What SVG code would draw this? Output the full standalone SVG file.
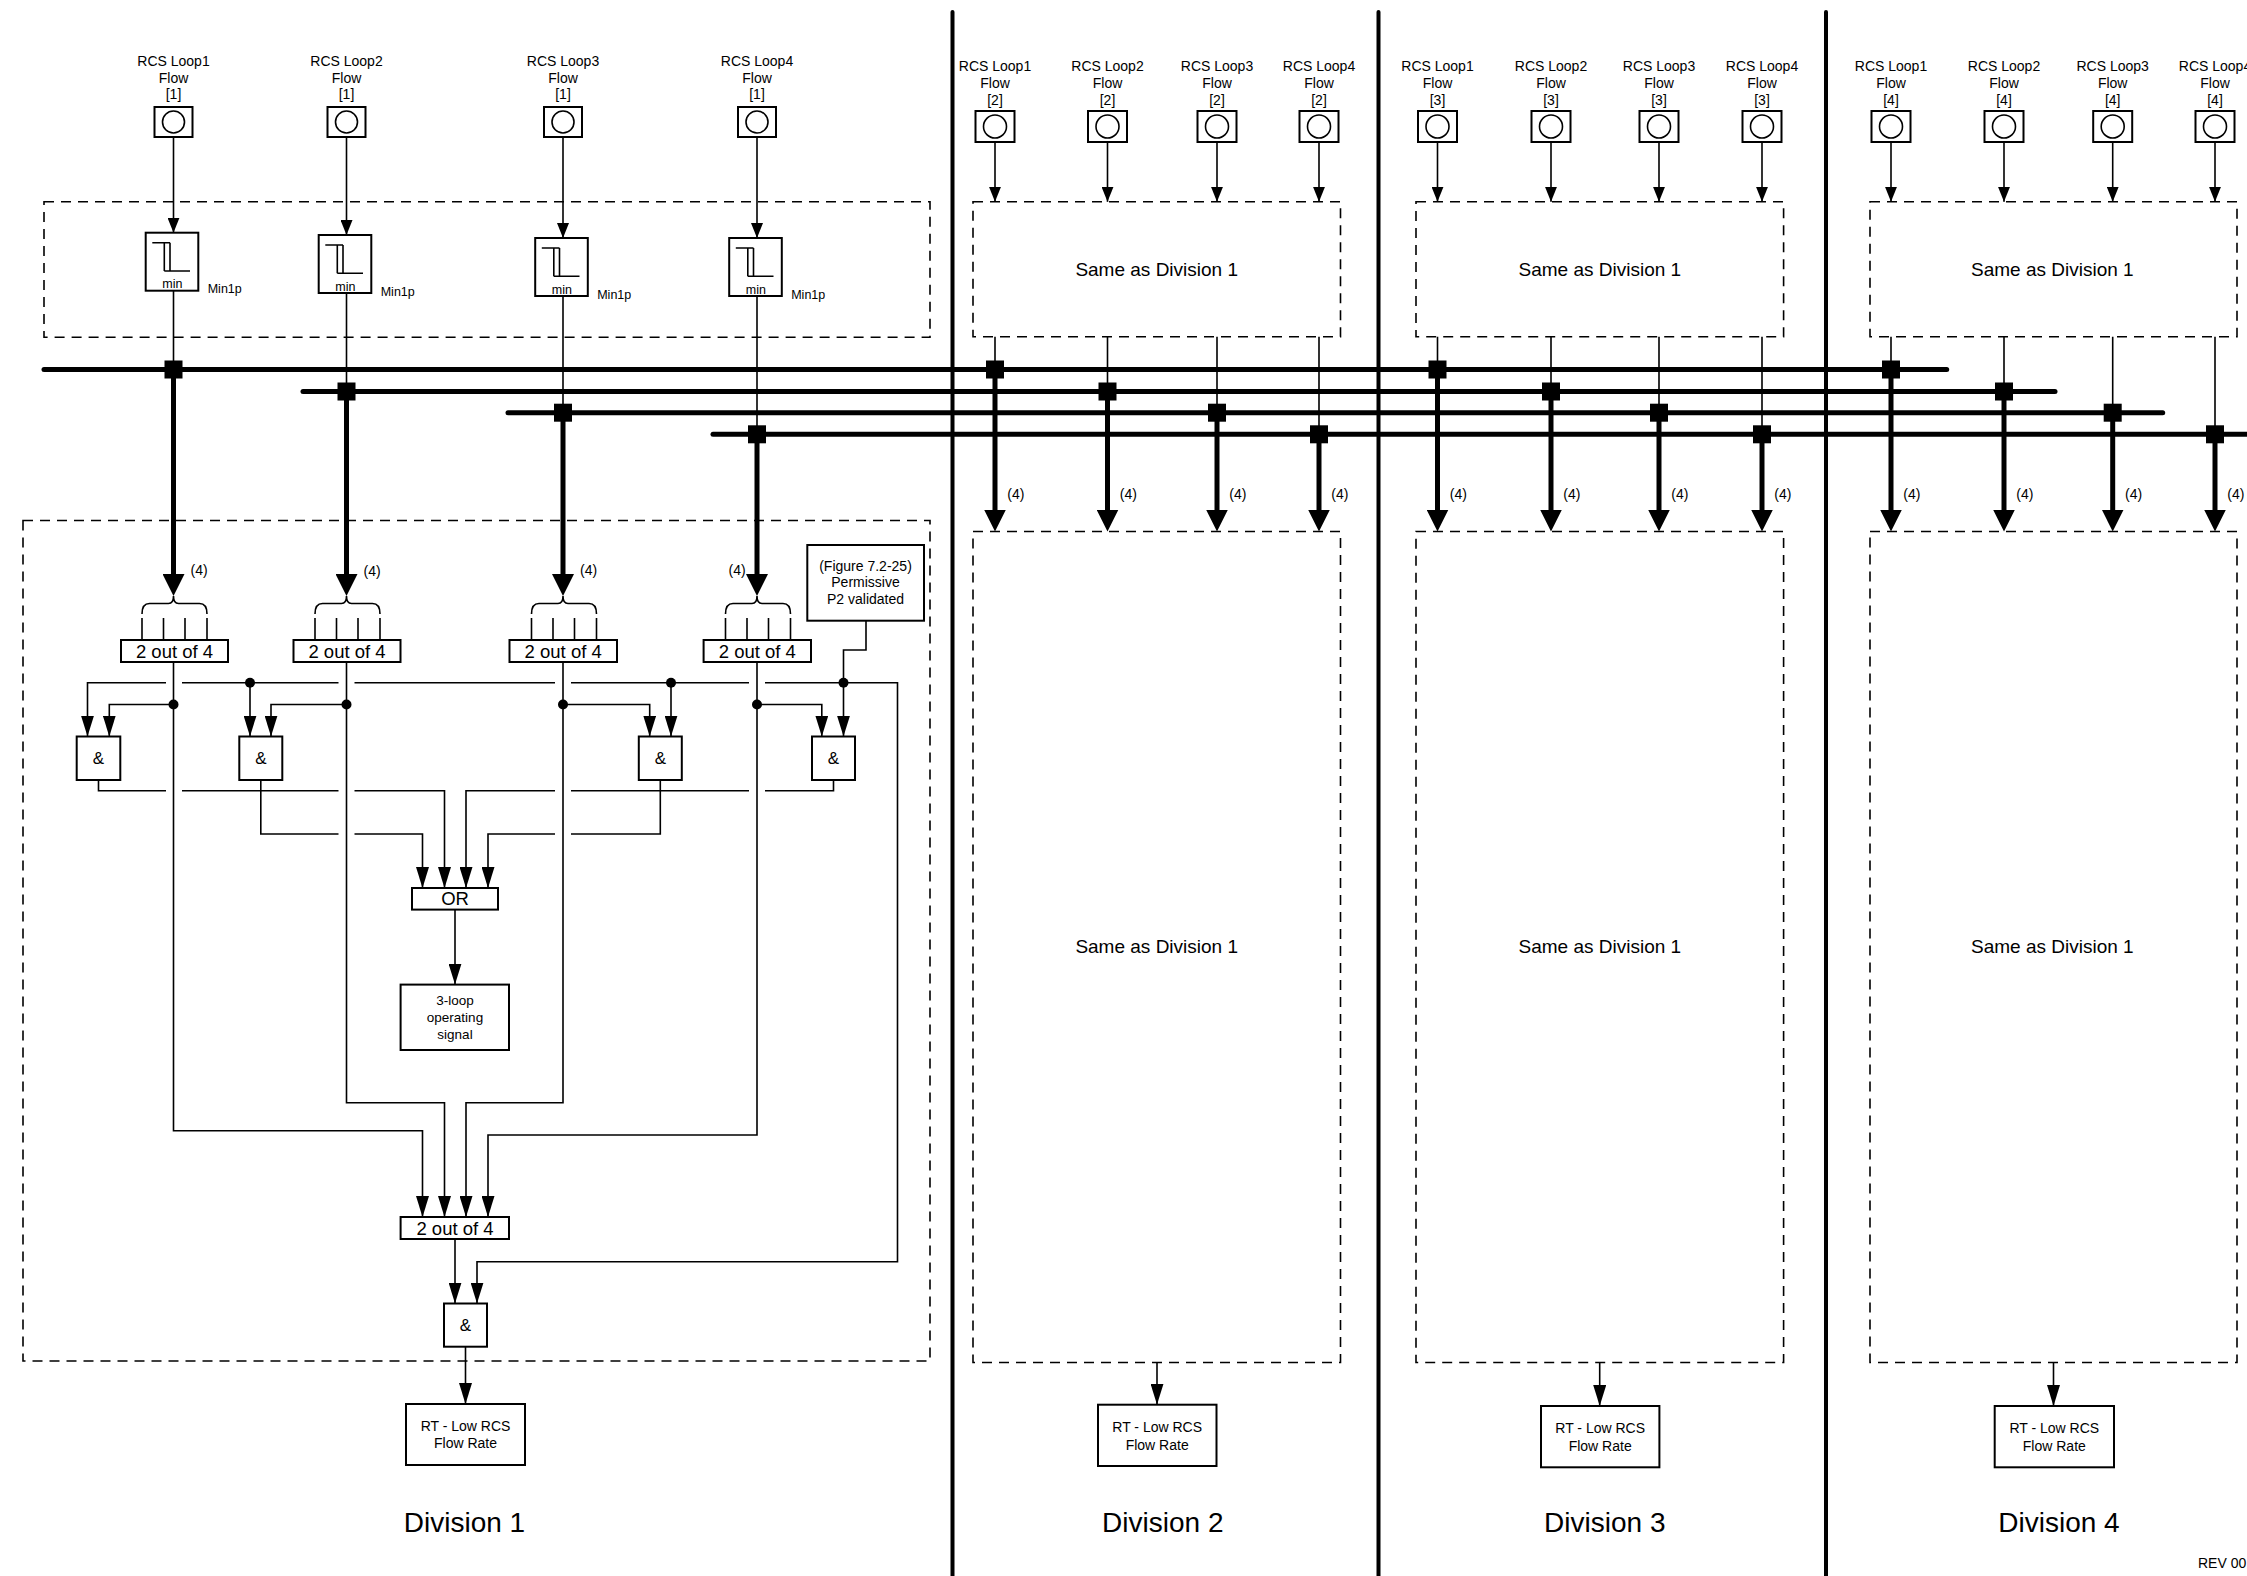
<svg xmlns="http://www.w3.org/2000/svg" width="2247" height="1576" viewBox="0 0 2247 1576">
<style>
text{font-family:"Liberation Sans",Arial,sans-serif;fill:#000}
.t14{font-size:14px;text-anchor:middle}
.t12{font-size:12.5px}
.t19{font-size:19px;text-anchor:middle}
.t18{font-size:18.5px;text-anchor:middle}
.t28{font-size:28px;text-anchor:middle}
.ln{stroke:#000;stroke-width:1.6;fill:none}
.bx{stroke:#000;stroke-width:2;fill:#fff}
.db{stroke:#000;stroke-width:1.6;fill:none;stroke-dasharray:10 7}
.bus{stroke:#000;stroke-width:5;stroke-linecap:round;fill:none}
.thk{stroke:#000;stroke-width:5;fill:none}
.dv{stroke:#000;stroke-width:4;stroke-linecap:round}
.jn{fill:#000}
.ah{marker-end:url(#ah)}
.as{marker-end:url(#as)}
.ak{marker-end:url(#ak)}
</style>
<defs>
<marker id="ah" viewBox="0 0 21 13" refX="21" refY="6.5" markerWidth="21" markerHeight="13" markerUnits="userSpaceOnUse" orient="auto"><path d="M0,0 L21,6.5 L0,13z"/></marker>
<marker id="as" viewBox="0 0 15 12" refX="15" refY="6" markerWidth="15" markerHeight="12" markerUnits="userSpaceOnUse" orient="auto"><path d="M0,0 L15,6 L0,12z"/></marker>
<marker id="ak" viewBox="0 0 22 22" refX="4" refY="11" markerWidth="22" markerHeight="22" markerUnits="userSpaceOnUse" orient="auto"><path d="M0,0 L22,11 L0,22z"/></marker>
<g id="minsym"><path class="ln" d="M6.6,10 H24.3 M18.6,10 V38.3 M24.3,10 V38.3 M18.6,38.3 H44.3"/></g>
</defs>
<rect width="2247" height="1576" fill="#fff"/>

<g id="separators">
<line class="dv" x1="952.5" y1="12" x2="952.5" y2="1580"/>
<line class="dv" x1="1378.5" y1="12" x2="1378.5" y2="1580"/>
<line class="dv" x1="1826" y1="12" x2="1826" y2="1580"/>
</g>

<g id="frames">
<rect class="db" x="44" y="201.7" width="886" height="135.6"/>
<rect class="db" x="23" y="520.5" width="907" height="840.5"/>
<rect class="db" x="973" y="201.8" width="367.5" height="135"/>
<rect class="db" x="973" y="531.5" width="367.5" height="831"/>
<rect class="db" x="1416" y="201.8" width="367.6" height="135"/>
<rect class="db" x="1416" y="531.5" width="367.6" height="831"/>
<rect class="db" x="1870" y="201.8" width="367" height="135"/>
<rect class="db" x="1870" y="531.5" width="367" height="831"/>
</g>

<g id="connectors">
<path class="bus" d="M44,369.5 H1946.7"/>
<path class="bus" d="M303,391.5 H2055"/>
<path class="bus" d="M508,412.7 H2162.7"/>
<path class="bus" d="M713,434.3 H2262"/>
<path class="ln as" d="M173.5,137 V232.7"/>
<path class="ln as" d="M346.5,137 V235"/>
<path class="ln as" d="M563,137 V238"/>
<path class="ln as" d="M757,137 V238"/>
<path class="ln" d="M173.5,290.7 V369.5"/>
<path class="ln" d="M346.5,293 V391.5"/>
<path class="ln" d="M563,296 V412.7"/>
<path class="ln" d="M757,296 V434.3"/>
<path class="thk ak" d="M173.5,369.5 V578"/>
<path class="thk ak" d="M346.5,391.5 V578"/>
<path class="thk ak" d="M563,412.7 V578"/>
<path class="thk ak" d="M757,434.3 V578"/>
<path class="ln as" d="M995,142 V201.8"/><path class="ln as" d="M1107.5,142 V201.8"/><path class="ln as" d="M1217,142 V201.8"/><path class="ln as" d="M1319,142 V201.8"/>
<path class="ln as" d="M1437.5,142 V201.8"/><path class="ln as" d="M1551,142 V201.8"/><path class="ln as" d="M1659,142 V201.8"/><path class="ln as" d="M1762,142 V201.8"/>
<path class="ln as" d="M1891,142 V201.8"/><path class="ln as" d="M2004,142 V201.8"/><path class="ln as" d="M2112.7,142 V201.8"/><path class="ln as" d="M2215,142 V201.8"/>
<path class="ln" d="M995,336.8 V369.5 M1107.5,336.8 V391.5 M1217,336.8 V412.7 M1319,336.8 V434.3"/>
<path class="ln" d="M1437.5,336.8 V369.5 M1551,336.8 V391.5 M1659,336.8 V412.7 M1762,336.8 V434.3"/>
<path class="ln" d="M1891,336.8 V369.5 M2004,336.8 V391.5 M2112.7,336.8 V412.7 M2215,336.8 V434.3"/>
<path class="thk ak" d="M995,369.5 V513.5"/><path class="thk ak" d="M1107.5,391.5 V513.5"/><path class="thk ak" d="M1217,412.7 V513.5"/><path class="thk ak" d="M1319,434.3 V513.5"/>
<path class="thk ak" d="M1437.5,369.5 V513.5"/><path class="thk ak" d="M1551,391.5 V513.5"/><path class="thk ak" d="M1659,412.7 V513.5"/><path class="thk ak" d="M1762,434.3 V513.5"/>
<path class="thk ak" d="M1891,369.5 V513.5"/><path class="thk ak" d="M2004,391.5 V513.5"/><path class="thk ak" d="M2112.7,412.7 V513.5"/><path class="thk ak" d="M2215,434.3 V513.5"/>
<path class="ln" d="M142,614 Q142,603.5 149.5,603.5 H168.5 Q173.5,603.5 173.5,596 Q173.5,603.5 178.5,603.5 H199.5 Q207,603.5 207,614 M142,618 V640 M163.5,618 V640 M185,618 V640 M207,618 V640"/>
<path class="ln" d="M315,614 Q315,603.5 322.5,603.5 H341.5 Q346.5,603.5 346.5,596 Q346.5,603.5 351.5,603.5 H372.5 Q380,603.5 380,614 M315,618 V640 M336.5,618 V640 M358,618 V640 M380,618 V640"/>
<path class="ln" d="M531.5,614 Q531.5,603.5 539,603.5 H558 Q563,603.5 563,596 Q563,603.5 568,603.5 H589 Q596.5,603.5 596.5,614 M531.5,618 V640 M553,618 V640 M574.5,618 V640 M596.5,618 V640"/>
<path class="ln" d="M725.5,614 Q725.5,603.5 733,603.5 H752 Q757,603.5 757,596 Q757,603.5 762,603.5 H783 Q790.5,603.5 790.5,614 M725.5,618 V640 M747,618 V640 M768.5,618 V640 M790.5,618 V640"/>
<path class="ln ah" d="M866,620.7 V650 H843.5 V736.5"/>
<path class="ln ah" d="M166,682.7 H87.5 V736.5"/>
<path class="ln" d="M182,682.7 H338.5 M354.5,682.7 H555 M571,682.7 H749"/>
<path class="ln ah" d="M765,682.7 H897.5 V1261.7 H477 V1303.5"/>
<path class="ln ah" d="M250,682.7 V736.5"/>
<path class="ln ah" d="M671,682.7 V736.5"/>
<path class="ln ah" d="M173.5,662 V1130.7 H422.5 V1217"/>
<path class="ln ah" d="M346.5,662 V1102.7 H444.5 V1217"/>
<path class="ln ah" d="M563,662 V1102.7 H466 V1217"/>
<path class="ln ah" d="M757,662 V1135 H488 V1217"/>
<path class="ln ah" d="M173.5,704.5 H109.3 V736.5"/>
<path class="ln ah" d="M346.5,704.5 H271 V736.5"/>
<path class="ln ah" d="M563,704.5 H649.7 V736.5"/>
<path class="ln ah" d="M757,704.5 H821.8 V736.5"/>
<path class="ln" d="M98.5,780 V790.7 H166 M182,790.7 H338.5"/>
<path class="ln ah" d="M354.5,790.7 H444.5 V888"/>
<path class="ln" d="M260.8,780 V834 H338.5"/>
<path class="ln ah" d="M354.5,834 H422.5 V888"/>
<path class="ln" d="M660.3,780 V834 H571"/>
<path class="ln ah" d="M555,834 H488 V888"/>
<path class="ln" d="M833.5,780 V790.7 H765 M749,790.7 H571"/>
<path class="ln ah" d="M555,790.7 H466 V888"/>
<path class="ln ah" d="M455,909.6 V984.6"/>
<path class="ln ah" d="M455,1239 V1303.5"/>
<path class="ln ah" d="M465.5,1346.7 V1404"/>
<path class="ln ah" d="M1157,1362.7 V1404.7"/>
<path class="ln ah" d="M1599.7,1362.7 V1406"/>
<path class="ln ah" d="M2053.5,1362.7 V1406"/>
<circle class="jn" cx="250" cy="682.7" r="5"/>
<circle class="jn" cx="671" cy="682.7" r="5"/>
<circle class="jn" cx="843.5" cy="682.7" r="5"/>
<circle class="jn" cx="173.5" cy="704.5" r="5"/>
<circle class="jn" cx="346.5" cy="704.5" r="5"/>
<circle class="jn" cx="563" cy="704.5" r="5"/>
<circle class="jn" cx="757" cy="704.5" r="5"/>
<g class="jn">
<rect x="164.5" y="360.5" width="18" height="18"/><rect x="337.5" y="382.5" width="18" height="18"/><rect x="554" y="403.7" width="18" height="18"/><rect x="748" y="425.3" width="18" height="18"/>
<rect x="986" y="360.5" width="18" height="18"/><rect x="1098.5" y="382.5" width="18" height="18"/><rect x="1208" y="403.7" width="18" height="18"/><rect x="1310" y="425.3" width="18" height="18"/>
<rect x="1428.5" y="360.5" width="18" height="18"/><rect x="1542" y="382.5" width="18" height="18"/><rect x="1650" y="403.7" width="18" height="18"/><rect x="1753" y="425.3" width="18" height="18"/>
<rect x="1882" y="360.5" width="18" height="18"/><rect x="1995" y="382.5" width="18" height="18"/><rect x="2103.7" y="403.7" width="18" height="18"/><rect x="2206" y="425.3" width="18" height="18"/>
</g>
<g class="t14" style="text-anchor:start">
<text x="190.5" y="575">(4)</text><text x="363.5" y="576">(4)</text><text x="580" y="575">(4)</text><text x="728.5" y="575">(4)</text>
<text x="1007.3" y="499">(4)</text><text x="1119.8" y="499">(4)</text><text x="1229.3" y="499">(4)</text><text x="1331.3" y="499">(4)</text>
<text x="1449.8" y="499">(4)</text><text x="1563.3" y="499">(4)</text><text x="1671.3" y="499">(4)</text><text x="1774.3" y="499">(4)</text>
<text x="1903.3" y="499">(4)</text><text x="2016.3" y="499">(4)</text><text x="2125" y="499">(4)</text><text x="2227.3" y="499">(4)</text>
</g>
</g>

<g id="d1-s1"><text class="t14" x="173.5" y="66">RCS Loop1</text><text class="t14" x="173.5" y="82.7">Flow</text><text class="t14" x="173.5" y="99">[1]</text><rect class="bx" x="154.5" y="107" width="38" height="30"/><circle class="ln" cx="173.5" cy="122" r="11"/></g>
<g id="d1-s2"><text class="t14" x="346.5" y="66">RCS Loop2</text><text class="t14" x="346.5" y="82.7">Flow</text><text class="t14" x="346.5" y="99">[1]</text><rect class="bx" x="327.5" y="107" width="38" height="30"/><circle class="ln" cx="346.5" cy="122" r="11"/></g>
<g id="d1-s3"><text class="t14" x="563" y="66">RCS Loop3</text><text class="t14" x="563" y="82.7">Flow</text><text class="t14" x="563" y="99">[1]</text><rect class="bx" x="544" y="107" width="38" height="30"/><circle class="ln" cx="563" cy="122" r="11"/></g>
<g id="d1-s4"><text class="t14" x="757" y="66">RCS Loop4</text><text class="t14" x="757" y="82.7">Flow</text><text class="t14" x="757" y="99">[1]</text><rect class="bx" x="738" y="107" width="38" height="30"/><circle class="ln" cx="757" cy="122" r="11"/></g>

<g id="d1-min1"><rect class="bx" x="145.7" y="232.7" width="52.6" height="58"/><use href="#minsym" x="145.7" y="232.7"/><text class="t12" x="172.3" y="288.3" text-anchor="middle">min</text><text class="t12" x="207.7" y="293.3">Min1p</text></g>
<g id="d1-min2"><rect class="bx" x="318.7" y="235" width="52.6" height="58"/><use href="#minsym" x="318.7" y="235"/><text class="t12" x="345.3" y="290.6" text-anchor="middle">min</text><text class="t12" x="380.7" y="295.6">Min1p</text></g>
<g id="d1-min3"><rect class="bx" x="535.2" y="238" width="52.6" height="58"/><use href="#minsym" x="535.2" y="238"/><text class="t12" x="561.8" y="293.6" text-anchor="middle">min</text><text class="t12" x="597.2" y="298.6">Min1p</text></g>
<g id="d1-min4"><rect class="bx" x="729.2" y="238" width="52.6" height="58"/><use href="#minsym" x="729.2" y="238"/><text class="t12" x="755.8" y="293.6" text-anchor="middle">min</text><text class="t12" x="791.2" y="298.6">Min1p</text></g>

<g id="d1-v1"><rect class="bx" x="121" y="640" width="107" height="22"/><text class="t18" x="174.5" y="657.5">2 out of 4</text></g>
<g id="d1-v2"><rect class="bx" x="293.5" y="640" width="107" height="22"/><text class="t18" x="347" y="657.5">2 out of 4</text></g>
<g id="d1-v3"><rect class="bx" x="509.5" y="640" width="107.5" height="22"/><text class="t18" x="563.2" y="657.5">2 out of 4</text></g>
<g id="d1-v4"><rect class="bx" x="703.6" y="640" width="107.4" height="22"/><text class="t18" x="757.3" y="657.5">2 out of 4</text></g>

<g id="d1-perm"><rect class="bx" x="807.3" y="545" width="116.7" height="75.7"/><text class="t14" x="865.5" y="570.7">(Figure 7.2-25)</text><text class="t14" x="865.5" y="587">Permissive</text><text class="t14" x="865.5" y="604">P2 validated</text></g>

<g id="d1-and1"><rect class="bx" x="76.7" y="736.5" width="43.6" height="43.5"/><text class="t18" style="font-size:17px" x="98.5" y="764">&amp;</text></g>
<g id="d1-and2"><rect class="bx" x="239.3" y="736.5" width="43" height="43.5"/><text class="t18" style="font-size:17px" x="260.8" y="764">&amp;</text></g>
<g id="d1-and3"><rect class="bx" x="638.8" y="736.5" width="43" height="43.5"/><text class="t18" style="font-size:17px" x="660.3" y="764">&amp;</text></g>
<g id="d1-and4"><rect class="bx" x="812" y="736.5" width="43" height="43.5"/><text class="t18" style="font-size:17px" x="833.5" y="764">&amp;</text></g>

<g id="d1-or"><rect class="bx" x="412" y="888" width="86" height="21.6"/><text class="t18" x="455" y="905">OR</text></g>
<g id="d1-3loop"><rect class="bx" x="400.6" y="984.6" width="108.4" height="65.4"/><text class="t14" style="font-size:13.5px" x="455" y="1005">3-loop</text><text class="t14" style="font-size:13.5px" x="455" y="1022">operating</text><text class="t14" style="font-size:13.5px" x="455" y="1039">signal</text></g>
<g id="d1-vote"><rect class="bx" x="400.6" y="1217" width="108.4" height="22"/><text class="t18" x="455" y="1234.5">2 out of 4</text></g>
<g id="d1-and5"><rect class="bx" x="444" y="1303.5" width="43" height="43.2"/><text class="t18" style="font-size:17px" x="465.5" y="1331">&amp;</text></g>
<g id="d1-rt"><rect class="bx" x="406" y="1404" width="119" height="61"/><text class="t14" x="465.5" y="1431">RT - Low RCS</text><text class="t14" x="465.5" y="1448">Flow Rate</text></g>
<g id="d1-label"><text class="t28" x="464.5" y="1532">Division 1</text></g>

<g id="d2-s1"><text class="t14" x="995" y="71.4">RCS Loop1</text><text class="t14" x="995" y="88">Flow</text><text class="t14" x="995" y="104.5">[2]</text><rect class="bx" x="975.5" y="111" width="39" height="31"/><circle class="ln" cx="995" cy="126.5" r="11.5"/></g>
<g id="d2-s2"><text class="t14" x="1107.5" y="71.4">RCS Loop2</text><text class="t14" x="1107.5" y="88">Flow</text><text class="t14" x="1107.5" y="104.5">[2]</text><rect class="bx" x="1088" y="111" width="39" height="31"/><circle class="ln" cx="1107.5" cy="126.5" r="11.5"/></g>
<g id="d2-s3"><text class="t14" x="1217" y="71.4">RCS Loop3</text><text class="t14" x="1217" y="88">Flow</text><text class="t14" x="1217" y="104.5">[2]</text><rect class="bx" x="1197.5" y="111" width="39" height="31"/><circle class="ln" cx="1217" cy="126.5" r="11.5"/></g>
<g id="d2-s4"><text class="t14" x="1319" y="71.4">RCS Loop4</text><text class="t14" x="1319" y="88">Flow</text><text class="t14" x="1319" y="104.5">[2]</text><rect class="bx" x="1299.5" y="111" width="39" height="31"/><circle class="ln" cx="1319" cy="126.5" r="11.5"/></g>
<g id="d2-same-a"><text class="t19" x="1156.7" y="275.5">Same as Division 1</text></g>
<g id="d2-same-b"><text class="t19" x="1156.7" y="952.6">Same as Division 1</text></g>
<g id="d2-rt"><rect class="bx" x="1098" y="1404.7" width="118.5" height="61.3"/><text class="t14" x="1157.2" y="1432">RT - Low RCS</text><text class="t14" x="1157.2" y="1450">Flow Rate</text></g>
<g id="d2-label"><text class="t28" x="1162.8" y="1532">Division 2</text></g>

<g id="d3-s1"><text class="t14" x="1437.5" y="71.4">RCS Loop1</text><text class="t14" x="1437.5" y="88">Flow</text><text class="t14" x="1437.5" y="104.5">[3]</text><rect class="bx" x="1418" y="111" width="39" height="31"/><circle class="ln" cx="1437.5" cy="126.5" r="11.5"/></g>
<g id="d3-s2"><text class="t14" x="1551" y="71.4">RCS Loop2</text><text class="t14" x="1551" y="88">Flow</text><text class="t14" x="1551" y="104.5">[3]</text><rect class="bx" x="1531.5" y="111" width="39" height="31"/><circle class="ln" cx="1551" cy="126.5" r="11.5"/></g>
<g id="d3-s3"><text class="t14" x="1659" y="71.4">RCS Loop3</text><text class="t14" x="1659" y="88">Flow</text><text class="t14" x="1659" y="104.5">[3]</text><rect class="bx" x="1639.5" y="111" width="39" height="31"/><circle class="ln" cx="1659" cy="126.5" r="11.5"/></g>
<g id="d3-s4"><text class="t14" x="1762" y="71.4">RCS Loop4</text><text class="t14" x="1762" y="88">Flow</text><text class="t14" x="1762" y="104.5">[3]</text><rect class="bx" x="1742.5" y="111" width="39" height="31"/><circle class="ln" cx="1762" cy="126.5" r="11.5"/></g>
<g id="d3-same-a"><text class="t19" x="1599.8" y="275.5">Same as Division 1</text></g>
<g id="d3-same-b"><text class="t19" x="1599.8" y="952.6">Same as Division 1</text></g>
<g id="d3-rt"><rect class="bx" x="1541" y="1406" width="118.4" height="61.3"/><text class="t14" x="1600.2" y="1433">RT - Low RCS</text><text class="t14" x="1600.2" y="1451">Flow Rate</text></g>
<g id="d3-label"><text class="t28" x="1604.8" y="1532">Division 3</text></g>

<g id="d4-s1"><text class="t14" x="1891" y="71.4">RCS Loop1</text><text class="t14" x="1891" y="88">Flow</text><text class="t14" x="1891" y="104.5">[4]</text><rect class="bx" x="1871.5" y="111" width="39" height="31"/><circle class="ln" cx="1891" cy="126.5" r="11.5"/></g>
<g id="d4-s2"><text class="t14" x="2004" y="71.4">RCS Loop2</text><text class="t14" x="2004" y="88">Flow</text><text class="t14" x="2004" y="104.5">[4]</text><rect class="bx" x="1984.5" y="111" width="39" height="31"/><circle class="ln" cx="2004" cy="126.5" r="11.5"/></g>
<g id="d4-s3"><text class="t14" x="2112.7" y="71.4">RCS Loop3</text><text class="t14" x="2112.7" y="88">Flow</text><text class="t14" x="2112.7" y="104.5">[4]</text><rect class="bx" x="2093.2" y="111" width="39" height="31"/><circle class="ln" cx="2112.7" cy="126.5" r="11.5"/></g>
<g id="d4-s4"><text class="t14" x="2215" y="71.4">RCS Loop4</text><text class="t14" x="2215" y="88">Flow</text><text class="t14" x="2215" y="104.5">[4]</text><rect class="bx" x="2195.5" y="111" width="39" height="31"/><circle class="ln" cx="2215" cy="126.5" r="11.5"/></g>
<g id="d4-same-a"><text class="t19" x="2052.3" y="275.5">Same as Division 1</text></g>
<g id="d4-same-b"><text class="t19" x="2052.3" y="952.6">Same as Division 1</text></g>
<g id="d4-rt"><rect class="bx" x="1994.7" y="1406" width="119.3" height="61.3"/><text class="t14" x="2054.3" y="1433">RT - Low RCS</text><text class="t14" x="2054.3" y="1451">Flow Rate</text></g>
<g id="d4-label"><text class="t28" x="2059" y="1532">Division 4</text></g>

<g id="rev"><text style="font-size:14px" x="2198" y="1568">REV 00</text></g>
</svg>
